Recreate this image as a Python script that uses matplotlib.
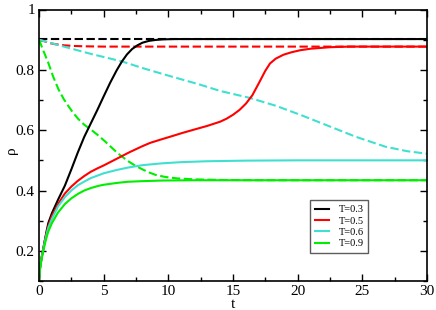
import matplotlib
matplotlib.use("Agg")
import matplotlib.pyplot as plt
from matplotlib.ticker import MultipleLocator, FixedLocator

# ---- data ----
t_black = [0, 0.05, 0.1, 0.2, 0.3, 0.45, 0.6, 0.72, 1.0, 1.5, 2.0, 2.5, 3.0, 3.5, 4.0, 4.5, 5.0, 5.5, 6.0, 6.4, 6.8, 7.2, 7.6, 8.0, 8.5, 9.0, 9.6, 10.5, 12, 15, 20, 25, 30]
r_black = [0.1, 0.13, 0.15, 0.177, 0.2, 0.235, 0.268, 0.292, 0.325, 0.372, 0.416, 0.47, 0.526, 0.578, 0.622, 0.666, 0.712, 0.757, 0.798, 0.827, 0.851, 0.869, 0.881, 0.89, 0.896, 0.899, 0.901, 0.902, 0.902, 0.902, 0.902, 0.902, 0.902]

t_red = [0, 0.05, 0.1, 0.2, 0.3, 0.45, 0.6, 0.72, 1.0, 1.5, 2.0, 2.5, 3.0, 3.5, 4.0, 4.5, 5.0, 5.5, 6.0, 6.5, 7.0, 7.5, 8.0, 8.6, 9.5, 10.5, 11.1, 12.0, 13.0, 14.0, 14.5, 15.0, 15.5, 16.0, 16.5, 17.0, 17.5, 17.86, 18.3, 18.9, 19.5, 20.2, 21.0, 22.5, 24, 26, 30]
r_red = [0.1, 0.13, 0.15, 0.177, 0.2, 0.233, 0.262, 0.282, 0.316, 0.357, 0.39, 0.413, 0.432, 0.448, 0.462, 0.473, 0.483, 0.494, 0.505, 0.516, 0.527, 0.537, 0.547, 0.558, 0.57, 0.583, 0.591, 0.602, 0.614, 0.628, 0.638, 0.651, 0.667, 0.688, 0.716, 0.756, 0.797, 0.821, 0.837, 0.85, 0.858, 0.865, 0.87, 0.875, 0.877, 0.877, 0.877]

t_cyan = [0, 0.05, 0.1, 0.2, 0.3, 0.45, 0.6, 0.72, 1.0, 1.47, 2.0, 2.5, 3.02, 3.56, 4.0, 4.56, 5.0, 6.0, 6.88, 8.0, 9.5, 11, 13, 16, 20, 25, 30]
r_cyan = [0.1, 0.13, 0.15, 0.176, 0.198, 0.23, 0.257, 0.276, 0.306, 0.347, 0.378, 0.4, 0.418, 0.431, 0.441, 0.45, 0.457, 0.468, 0.476, 0.484, 0.49, 0.494, 0.497, 0.499, 0.5, 0.5, 0.5]

t_green = [0, 0.05, 0.1, 0.2, 0.3, 0.45, 0.6, 0.72, 1.0, 1.47, 2.0, 2.5, 3.02, 3.5, 4.0, 4.56, 5.0, 6.0, 6.88, 8.0, 9.5, 12, 16, 20, 25, 30]
r_green = [0.1, 0.13, 0.148, 0.172, 0.193, 0.222, 0.247, 0.264, 0.292, 0.327, 0.355, 0.374, 0.389, 0.4, 0.408, 0.415, 0.419, 0.425, 0.429, 0.431, 0.433, 0.434, 0.434, 0.434, 0.434, 0.434]

t_black_d = [0, 5, 10, 15, 20, 25, 30]
r_black_d = [0.903, 0.903, 0.903, 0.903, 0.903, 0.903, 0.903]

t_red_d = [0, 0.4, 0.8, 1.24, 2.0, 2.8, 3.5, 5, 8, 12, 20, 30]
r_red_d = [0.9, 0.895, 0.889, 0.885, 0.881, 0.879, 0.878, 0.877, 0.877, 0.877, 0.877, 0.877]

t_cyan_d = [0, 1.0, 2.27, 4.0, 6.4, 8.0, 9.74, 12.45, 14.0, 16.3, 18.3, 20.2, 22.5, 24.5, 26.8, 28.5, 30]
r_cyan_d = [0.9, 0.888, 0.873, 0.853, 0.828, 0.806, 0.784, 0.751, 0.73, 0.707, 0.681, 0.651, 0.612, 0.578, 0.545, 0.53, 0.522]

t_green_d = [0, 0.35, 0.72, 1.1, 1.5, 1.9, 2.27, 2.65, 3.04, 3.5, 4.07, 4.6, 5.1, 5.6, 6.0, 6.4, 6.9, 7.42, 8.0, 8.5, 9.0, 9.74, 10.7, 12, 14, 17, 20, 25, 30]
r_green_d = [0.9, 0.862, 0.823, 0.777, 0.736, 0.704, 0.68, 0.657, 0.637, 0.618, 0.6, 0.582, 0.563, 0.543, 0.527, 0.513, 0.497, 0.483, 0.47, 0.46, 0.452, 0.445, 0.44, 0.437, 0.435, 0.434, 0.434, 0.434, 0.434]

labels = ["T=0.3", "T=0.5", "T=0.6", "T=0.9"]
colors = ["#000000", "#ff0000", "#40e0d0", "#00ee00"]

x_ticks = [0, 5, 10, 15, 20, 25, 30]
y_ticks = [0.2, 0.4, 0.6, 0.8, 1.0]
y_ticklabels = ["0.2", "0.4", "0.6", "0.8", "1"]

plt.rcParams['font.family'] = ['Liberation Serif', 'DejaVu Serif']

fig = plt.figure(figsize=(4.36, 3.10), dpi=100)
ax = fig.add_axes([39/436, 1 - 281/310, 388/436, 271.5/310])

dash = (0, (4, 1.7))
solids = [(t_black, r_black), (t_red, r_red), (t_cyan, r_cyan), (t_green, r_green)]
dashed = [(t_black_d, r_black_d), (t_red_d, r_red_d), (t_cyan_d, r_cyan_d), (t_green_d, r_green_d)]
for (tt, rr), c in zip(dashed, colors):
    ax.plot(tt, rr, color=c, lw=1.5, linestyle=dash)
for (tt, rr), c, lab in zip(solids, colors, labels):
    ax.plot(tt, rr, color=c, lw=1.5, label=lab)

ax.set_xlim(0, 30)
ax.set_ylim(0.1, 1.0)
ax.xaxis.set_major_locator(FixedLocator(x_ticks))
ax.xaxis.set_minor_locator(MultipleLocator(2.5))
ax.yaxis.set_major_locator(FixedLocator(y_ticks))
ax.set_yticklabels(y_ticklabels)
ax.yaxis.set_minor_locator(MultipleLocator(0.1))
ax.tick_params(which='both', direction='in', top=True, right=True, labelsize=11, pad=3)
ax.tick_params(which='major', length=5, width=1)
ax.tick_params(which='minor', length=3, width=1)
for s in ax.spines.values():
    s.set_linewidth(1.2)

ax.set_xlabel("t", fontsize=11, labelpad=0)
ax.set_ylabel("ρ", fontsize=11, va='center')
ax.yaxis.set_label_coords(-0.072, 0.48)

leg = ax.legend(loc='lower left', bbox_to_anchor=(0.698, 0.103), fontsize=7.5,
                frameon=True, fancybox=False, edgecolor='#333333', handlelength=1.4,
                handletextpad=0.9, borderpad=0.45, labelspacing=0.2, borderaxespad=0)
leg.get_frame().set_linewidth(1.0)

fig.savefig("out.png", dpi=100)
